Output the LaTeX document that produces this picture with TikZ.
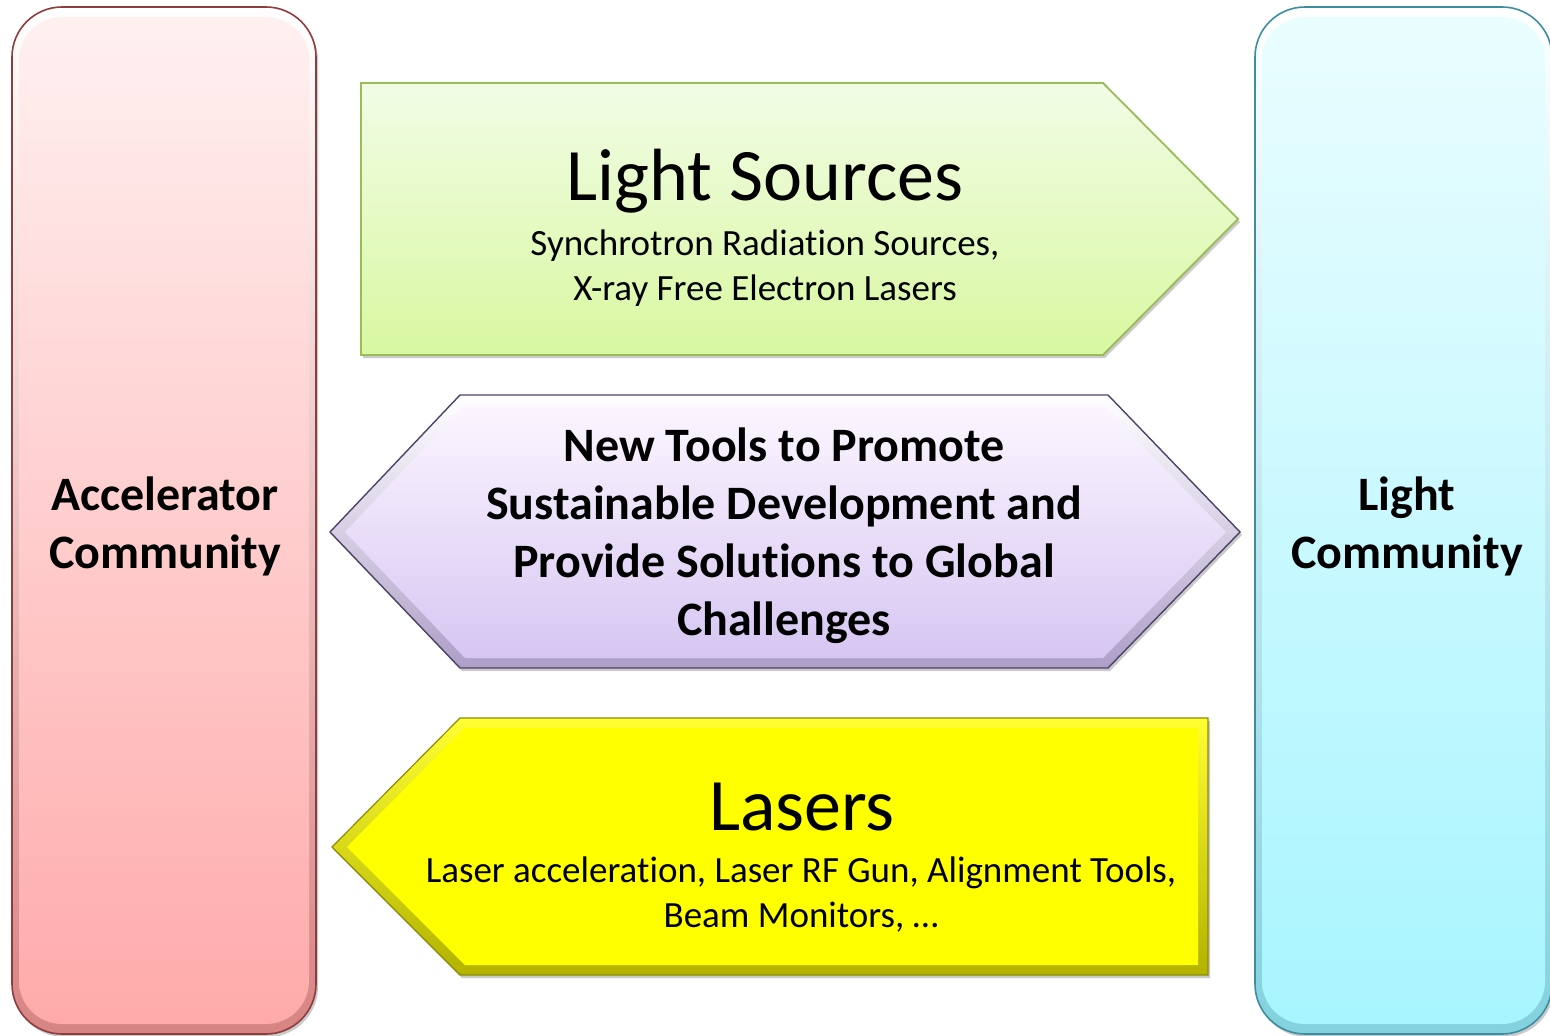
\documentclass[tikz,border=0pt]{standalone}
\usepackage{fontspec}
\setmainfont{Carlito}[Ligatures=NoCommon]
\usetikzlibrary{shadows,calc}

\definecolor{pinkTop}{HTML}{FFF0F0}
\definecolor{pinkBot}{HTML}{FFAAAA}
\definecolor{pinkEdge}{HTML}{8E3C3C}
\definecolor{cyanTop}{HTML}{EAFDFF}
\definecolor{cyanBot}{HTML}{A8F5FF}
\definecolor{cyanEdge}{HTML}{3E8EA2}
\definecolor{greenTop}{HTML}{F2FCE6}
\definecolor{greenBot}{HTML}{D8F8A0}
\definecolor{greenEdge}{HTML}{9BBB59}
\definecolor{lilacTop}{HTML}{FCF6FF}
\definecolor{lilacBot}{HTML}{D6C6F2}
\definecolor{lilacEdge}{HTML}{4E4266}
\definecolor{yel}{HTML}{FFFF00}
\definecolor{yelEdge}{HTML}{8C8C00}

\tikzset{
  softshadow/.style={drop shadow={shadow xshift=2pt,shadow yshift=-3pt,opacity=0.35,fill=black!60}},
  title/.style={font=\fontsize{74}{84}\selectfont, inner sep=0pt},
  sub/.style={font=\fontsize{37}{45}\selectfont, align=center, inner sep=0pt},
  bold/.style={font=\bfseries\fontsize{48}{58}\selectfont, align=center, inner sep=0pt},
}

\begin{document}
\begin{tikzpicture}[x=1pt,y=-1pt]
\useasboundingbox (0,0) rectangle (1550,1036);
\clip (0,0) rectangle (1550,1036);

% ---------- left pillar: Accelerator Community ----------
\path[rounded corners=50pt, softshadow, top color=white, bottom color=pinkBot!65!pinkEdge,
      draw=pinkEdge, line width=1.6pt] (12,7) rectangle (316,1034);
\path[rounded corners=43pt, top color=pinkTop, bottom color=pinkBot] (19,17) rectangle (309,1024);

% ---------- right pillar: Light Community ----------
\path[rounded corners=50pt, softshadow, top color=white, bottom color=cyanBot!65!cyanEdge,
      draw=cyanEdge, line width=1.6pt] (1255,7) rectangle (1552,1034);
\path[rounded corners=43pt, top color=cyanTop, bottom color=cyanBot] (1262,17) rectangle (1545,1024);

% ---------- green arrow pointing right ----------
\path[softshadow, top color=greenTop, bottom color=greenBot, draw=greenEdge, line width=1.8pt]
  (361,83) -- (1103,83) -- (1238,219) -- (1103,355) -- (361,355) -- cycle;

% ---------- lilac double-headed hexagon ----------
\path[softshadow, top color=white, bottom color=lilacBot!70!lilacEdge, draw=lilacEdge, line width=1.4pt]
  (330,532) -- (460,395) -- (1108,395) -- (1240,532) -- (1108,668) -- (460,668) -- cycle;
\path[top color=lilacTop, bottom color=lilacBot]
  (345,532) -- (465,405) -- (1103,405) -- (1226,532) -- (1103,658) -- (465,658) -- cycle;

% ---------- yellow arrow pointing left ----------
\path[softshadow, top color=yel!80!white, bottom color=yel!70!black, draw=yelEdge, line width=1.2pt]
  (332,847) -- (460,718) -- (1208,718) -- (1208,975) -- (460,975) -- cycle;
\path[fill=yel]
  (347,847) -- (465,728) -- (1198,728) -- (1198,965) -- (465,965) -- cycle;

% ---------- texts ----------
\node[bold] (acc) at (165,526) {Accelerator\\Community};
\node[bold] (lig) at (1407,526) {Light\\Community};

\node[title] (ls) at (765,181) {Light Sources};
\node[sub] (lsSub) at (765,268) {Synchrotron Radiation Sources,\\X-ray Free Electron Lasers};

\node[bold] (tools) at (784,536) {New Tools to Promote\\Sustainable Development and\\Provide Solutions to Global\\Challenges};

\node[title] (las) at (802,807) {Lasers};
\node[sub] (lasSub) at (801,895) {Laser acceleration, Laser RF Gun, Alignment Tools,\\Beam Monitors, \dots};
\end{tikzpicture}
\end{document}
